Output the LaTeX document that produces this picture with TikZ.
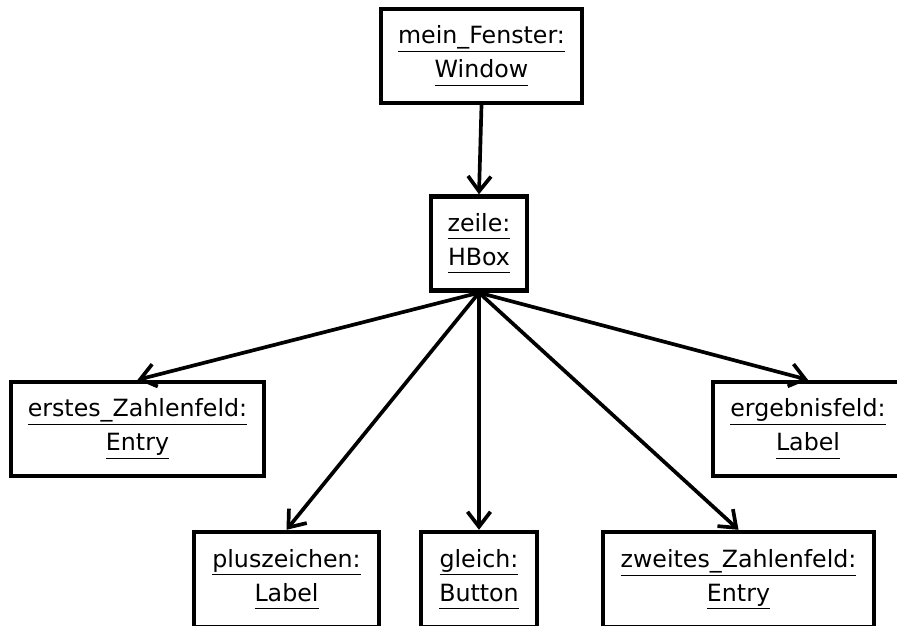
\documentclass[tikz,border=0pt]{standalone}
\usepackage{fontspec}
\setmainfont{DejaVu Sans}
\usetikzlibrary{arrows.meta}

\newcommand{\ulline}[1]{\underline{#1\vphantom{y}}}

\begin{document}
\begin{tikzpicture}[
    obj/.style={draw, line width=2.5pt, align=center, inner sep=0pt,
      minimum height=1.88cm, font=\fontsize{13.5}{19.5}\selectfont},
    link/.style={-{Straight Barb[length=0.3cm, width=0.46cm]}, line width=2.1pt}]

  \useasboundingbox (0,0) rectangle (17.94,12.52);
  \clip (0,0) rectangle (17.94,12.52);

  %% ---- window and row ----
  \node[obj, minimum width=4.02cm] (fenster) at (9.63, 11.40) {\ulline{mein\_Fenster:}\\ \ulline{Window}};
  \node[obj, minimum width=1.92cm] (zeile) at (9.58, 7.65) {\ulline{zeile:}\\ \ulline{HBox}};

  %% ---- middle row ----
  \node[obj, minimum width=5.06cm] (erstes) at (2.75, 3.94) {\ulline{erstes\_Zahlenfeld:}\\ \ulline{Entry}};
  \node[obj, minimum width=3.80cm] (ergebnis) at (16.16, 3.94) {\ulline{ergebnisfeld:}\\ \ulline{Label}};

  %% ---- bottom row (cut by the border) ----
  \node[obj, minimum width=3.70cm, minimum height=1.9cm] (plus) at (5.73, 0.93) {\ulline{pluszeichen:}\\ \ulline{Label}};
  \node[obj, minimum width=2.32cm, minimum height=1.9cm] (gleich) at (9.58, 0.93) {\ulline{gleich:}\\ \ulline{Button}};
  \node[obj, minimum width=5.42cm, minimum height=1.9cm] (zweites) at (14.77, 0.93) {\ulline{zweites\_Zahlenfeld:}\\ \ulline{Entry}};

  %% connectors
  \draw[link] (fenster.south) -- (zeile.north);
  \draw[link] (zeile.south) -- (erstes.north);
  \draw[link] (zeile.south) -- (ergebnis.north);
  \draw[link] (zeile.south) -- (plus.north);
  \draw[link] (zeile.south) -- (gleich.north);
  \draw[link] (zeile.south) -- (zweites.north);

\end{tikzpicture}
\end{document}
